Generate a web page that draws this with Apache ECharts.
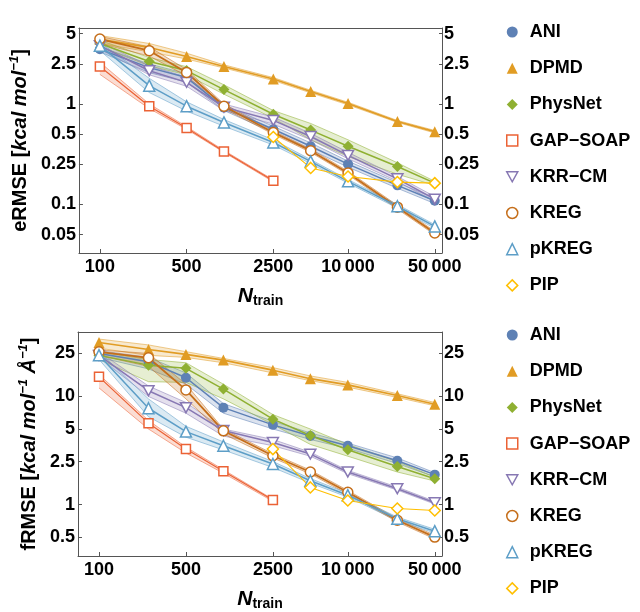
<!DOCTYPE html>
<html><head><meta charset="utf-8">
<script src="https://cdn.jsdelivr.net/npm/echarts@6/dist/echarts.min.js"></script>
<style>html,body{margin:0;padding:0;background:#fff}#c{width:640px;height:612px}</style>
</head><body><div id="c"></div>
<script>
// ---------- data ----------
const nTrain = [100, 250, 500, 1000, 2500, 5000, 10000, 25000, 50000];
const xTicks = [100, 500, 2500, 10000, 50000];
const eTicks = [0.05, 0.1, 0.25, 0.5, 1, 2.5, 5];
const fTicks = [0.5, 1, 2.5, 5, 10, 25];
const methods = ['ANI', 'DPMD', 'PhysNet', 'GAP−SOAP', 'KRR−CM', 'KREG', 'pKREG', 'PIP'];

// eRMSE (kcal/mol): mean, lower, upper
const eANI   = [3.5, 2.3, 1.83, 0.92, 0.56, 0.38, 0.252, 0.155, 0.109];
const eANIlo = [3.3, 2.05, 1.65, 0.86, 0.52, 0.35, 0.235, 0.145, 0.102];
const eANIhi = [3.7, 2.5, 2.0, 0.98, 0.6, 0.41, 0.27, 0.165, 0.116];
const eDPMD   = [4.4, 3.65, 2.97, 2.36, 1.77, 1.33, 1.01, 0.67, 0.53];
const eDPMDlo = [4.0, 3.3, 2.8, 2.28, 1.71, 1.29, 0.98, 0.655, 0.515];
const eDPMDhi = [4.8, 4.0, 3.2, 2.45, 1.83, 1.37, 1.04, 0.685, 0.545];
const ePhys   = [4.0, 2.65, 2.15, 1.39, 0.79, 0.55, 0.38, 0.239, 0.163];
const ePhyslo = [3.7, 2.4, 1.95, 1.25, 0.72, 0.44, 0.3, 0.2, 0.155];
const ePhyshi = [4.3, 2.9, 2.35, 1.55, 0.86, 0.64, 0.44, 0.26, 0.17];
const eGAP   = [2.36, 0.95, 0.577, 0.337, 0.172, null, null, null, null];
const eGAPlo = [1.97, 0.9, 0.56, 0.33, 0.168, null, null, null, null];
const eGAPhi = [2.6, 1.0, 0.595, 0.345, 0.176, null, null, null, null];
const eKRR   = [3.8, 2.14, 1.64, 0.93, 0.686, 0.475, 0.308, 0.18, 0.113];
const eKRRlo = [3.5, 1.95, 1.5, 0.86, 0.63, 0.44, 0.285, 0.17, 0.106];
const eKRRhi = [4.1, 2.4, 1.85, 1.0, 0.74, 0.51, 0.33, 0.19, 0.12];
const eKREG   = [4.43, 3.39, 2.06, 0.95, 0.52, 0.343, 0.206, 0.094, 0.052];
const eKREGlo = [4.0, 3.0, 1.9, 0.9, 0.5, 0.33, 0.198, 0.09, 0.05];
const eKREGhi = [4.7, 3.7, 2.2, 1.0, 0.54, 0.356, 0.214, 0.098, 0.054];
const epK   = [3.8, 1.52, 0.95, 0.655, 0.414, 0.268, 0.17, 0.096, 0.0605];
const epKlo = [3.4, 1.3, 0.85, 0.6, 0.39, 0.255, 0.163, 0.092, 0.058];
const epKhi = [4.1, 1.8, 1.05, 0.7, 0.44, 0.28, 0.177, 0.1, 0.063];
const ePIP  = [null, null, null, null, 0.469, 0.231, 0.19, 0.167, 0.163];

// fRMSE (kcal/mol/Å): mean, lower, upper
const fANI   = [25, 21, 14.9, 7.88, 5.46, 4.3, 3.5, 2.54, 1.89];
const fANIlo = [23, 18, 13, 7.0, 5.0, 4.0, 3.3, 2.4, 1.8];
const fANIhi = [26.5, 23, 16.5, 8.6, 5.9, 4.6, 3.7, 2.7, 1.97];
const fDPMD   = [31.6, 27.2, 24.5, 21.7, 17.5, 14.6, 12.8, 10.2, 8.47];
const fDPMDlo = [28, 24, 23, 20.5, 16.5, 14, 12.2, 9.8, 8.2];
const fDPMDhi = [34, 30, 26, 22.5, 18.5, 15.5, 13.5, 10.6, 8.8];
const fPhys   = [24, 19.5, 18.2, 11.7, 6.17, 4.35, 3.21, 2.25, 1.73];
const fPhyslo = [22, 13.7, 13.5, 9.5, 5.5, 3.6, 2.8, 2.0, 1.65];
const fPhyshi = [26, 22, 20.5, 13, 6.8, 5.0, 3.6, 2.5, 1.8];
const fGAP   = [15.2, 5.66, 3.26, 2.03, 1.10, null, null, null, null];
const fGAPlo = [12, 5.0, 3.0, 1.95, 1.07, null, null, null, null];
const fGAPhi = [16, 6.0, 3.4, 2.1, 1.12, null, null, null, null];
const fKRR   = [24, 11.3, 7.88, 4.84, 3.75, 2.93, 2.0, 1.40, 1.04];
const fKRRlo = [23, 10, 7.0, 4.3, 3.5, 2.8, 1.93, 1.36, 1.01];
const fKRRhi = [26, 12.5, 8.8, 5.0, 4.0, 3.05, 2.07, 1.45, 1.07];
const fKREG   = [25.9, 22.8, 11.5, 4.81, 2.83, 2.0, 1.30, 0.716, 0.5];
const fKREGlo = [24, 19, 9.5, 4.5, 2.7, 1.92, 1.25, 0.69, 0.48];
const fKREGhi = [27, 25, 13, 5.0, 2.95, 2.08, 1.35, 0.74, 0.52];
const fpK   = [24.1, 7.78, 4.73, 3.5, 2.37, 1.66, 1.22, 0.738, 0.567];
const fpKlo = [22, 6.5, 4.2, 3.2, 2.2, 1.58, 1.17, 0.71, 0.545];
const fpKhi = [26, 9.5, 5.3, 3.8, 2.5, 1.74, 1.27, 0.765, 0.59];
const fPIP  = [null, null, null, null, 3.26, 1.44, 1.09, 0.918, 0.88];

// ---------- styles ----------
const FONT = 'Liberation Sans, Arial, sans-serif';
const FRAME = '#555';
const DOWN_TRI = 'path://M0,0L10,0L5,9Z';
const styles = [
  {color: '#5E81B5', symbol: 'circle',   size: 10, open: false, lw: 1.5},
  {color: '#E19C24', symbol: 'triangle', size: 11, open: false, lw: 1.7},
  {color: '#8FB032', symbol: 'diamond',  size: 11, open: false, lw: 1.5},
  {color: '#EB6235', symbol: 'rect',     size: 9,  open: true,  lw: 1.2},
  {color: '#8778B3', symbol: DOWN_TRI,   size: 11, open: true,  lw: 1.5},
  {color: '#C56E1A', symbol: 'circle',   size: 10, open: true,  lw: 1.8},
  {color: '#5D9EC7', symbol: 'triangle', size: 11, open: true,  lw: 1.5},
  {color: '#FFBF00', symbol: 'diamond',  size: 11, open: true,  lw: 1.1}
];

const panels = [
  {mean: [eANI, eDPMD, ePhys, eGAP, eKRR, eKREG, epK, ePIP],
   lo:   [eANIlo, eDPMDlo, ePhyslo, eGAPlo, eKRRlo, eKREGlo, epKlo, null],
   hi:   [eANIhi, eDPMDhi, ePhyshi, eGAPhi, eKRRhi, eKREGhi, epKhi, null],
   ticks: eTicks, ymin: 0.0329, ymax: 5.70},
  {mean: [fANI, fDPMD, fPhys, fGAP, fKRR, fKREG, fpK, fPIP],
   lo:   [fANIlo, fDPMDlo, fPhyslo, fGAPlo, fKRRlo, fKREGlo, fpKlo, null],
   hi:   [fANIhi, fDPMDhi, fPhyshi, fGAPhi, fKRRhi, fKREGhi, fpKhi, null],
   ticks: fTicks, ymin: 0.334, ymax: 39.5}
];

function nearest(list, v) {
  let best = list[0];
  for (const t of list) if (Math.abs(Math.log(t) - Math.log(v)) < Math.abs(Math.log(best) - Math.log(v))) best = t;
  return best;
}
function fmtX(v) {
  const t = nearest(xTicks, v);
  return t >= 10000 ? String(t).replace(/(\d)(?=(\d{3})+$)/g, '$1\u2009') : String(t);
}

const labelStyle = {fontFamily: FONT, fontSize: 18, fontWeight: 'bold', color: '#000'};
const titleRich = {
  b: {fontFamily: FONT, fontSize: 20, fontWeight: 'bold', color: '#000', lineHeight: 24},
  i: {fontFamily: FONT, fontSize: 20, fontWeight: 'bold', fontStyle: 'italic', color: '#000', lineHeight: 24},
  s: {fontFamily: FONT, fontSize: 13, fontWeight: 'bold', fontStyle: 'italic', color: '#000', lineHeight: 13, verticalAlign: 'top'}
};
const xNameRich = {
  n: {fontFamily: FONT, fontSize: 21, fontWeight: 'bold', fontStyle: 'italic', color: '#000', lineHeight: 22, verticalAlign: 'top'},
  s: {fontFamily: FONT, fontSize: 14, fontWeight: 'bold', color: '#000', lineHeight: 14, padding: [10, 0, 0, 0], verticalAlign: 'bottom'}
};

const grids = [
  {left: 78, top: 28, width: 364, height: 225},
  {left: 78, top: 332, width: 364, height: 225}
];
const yNames = [
  '{b|eRMSE [}{i|kcal mol}{s|−1}{b|]}',
  '{b|fRMSE [}{i|kcal mol}{s|−1}{i| Å}{s|−1}{b|]}'
];
const yNameGap = [39, 29];

const xAxis = [], yAxis = [], series = [], legend = [];
panels.forEach((p, g) => {
  xAxis.push({
    type: 'log', gridIndex: g, min: 67.8, max: 57180, position: 'bottom',
    axisLine: {show: true, lineStyle: {color: FRAME, width: 1}},
    axisTick: {show: true, inside: true, length: 4, customValues: xTicks, lineStyle: {color: FRAME}},
    axisLabel: Object.assign({customValues: xTicks, margin: 5, formatter: fmtX}, labelStyle),
    splitLine: {show: false}, minorTick: {show: false},
    name: '{n|N}{s|train}', nameLocation: 'middle', nameGap: 33,
    nameTextStyle: {rich: xNameRich}
  });
  xAxis.push({
    type: 'value', gridIndex: g, min: 0, max: 1, position: 'top',
    axisLine: {show: true, onZero: false, lineStyle: {color: FRAME, width: 1}},
    axisTick: {show: false}, axisLabel: {show: false}, splitLine: {show: false}
  });
  const yfmt = v => String(nearest(p.ticks, v));
  yAxis.push({
    type: 'log', gridIndex: g, min: p.ymin, max: p.ymax, position: 'left',
    axisLine: {show: true, lineStyle: {color: FRAME, width: 1}},
    axisTick: {show: true, inside: true, length: 4, customValues: p.ticks, lineStyle: {color: FRAME}},
    axisLabel: Object.assign({customValues: p.ticks, margin: 3, formatter: yfmt}, labelStyle),
    splitLine: {show: false}, minorTick: {show: false},
    name: yNames[g], nameLocation: 'middle', nameGap: yNameGap[g], nameRotate: 90,
    nameTextStyle: {rich: titleRich}
  });
  yAxis.push({
    type: 'log', gridIndex: g, min: p.ymin, max: p.ymax, position: 'right',
    axisLine: {show: true, lineStyle: {color: FRAME, width: 1}},
    axisTick: {show: true, inside: true, length: 3, customValues: p.ticks, lineStyle: {color: FRAME}},
    axisLabel: Object.assign({customValues: p.ticks, margin: 2, formatter: yfmt}, labelStyle),
    splitLine: {show: false}, minorTick: {show: false}
  });
  const xi = g * 2, yi = g * 2;

  // bands
  methods.forEach((m, k) => {
    if (!p.lo[k]) return;
    const st = styles[k];
    const pts = [];
    nTrain.forEach((x, i) => { if (p.lo[k][i] != null) pts.push([x, p.lo[k][i], p.hi[k][i]]); });
    series.push({
      type: 'custom', name: m + ' band', xAxisIndex: xi, yAxisIndex: yi, z: 1,
      silent: true, animation: false, clip: true,
      data: pts,
      renderItem: function (params, api) {
        if (params.dataIndex !== 0) return {type: 'group', children: []};
        const lower = pts.map(d => api.coord([d[0], d[1]]));
        const upper = pts.map(d => api.coord([d[0], d[2]]));
        const poly = lower.concat(upper.slice().reverse());
        return {
          type: 'group',
          children: [
            {type: 'polygon', shape: {points: poly}, style: {fill: st.color, opacity: 0.22, stroke: null}},
            {type: 'polyline', shape: {points: lower}, style: {stroke: st.color, lineWidth: 0.7, opacity: 0.75, fill: null}},
            {type: 'polyline', shape: {points: upper}, style: {stroke: st.color, lineWidth: 0.7, opacity: 0.75, fill: null}}
          ]
        };
      }
    });
  });

  // mean lines + markers
  methods.forEach((m, k) => {
    const st = styles[k];
    const data = [];
    nTrain.forEach((x, i) => { if (p.mean[k][i] != null) data.push([x, p.mean[k][i]]); });
    series.push({
      type: 'line', name: m, xAxisIndex: xi, yAxisIndex: yi, z: 3,
      data: data, symbol: st.symbol, symbolSize: st.size, symbolKeepAspect: true,
      showAllSymbol: true, animation: false,
      lineStyle: {color: st.color, width: st.lw},
      itemStyle: st.open ? {color: '#fff', borderColor: st.color, borderWidth: 1.5}
                         : {color: st.color, borderWidth: 0},
      emphasis: {disabled: true}
    });
  });

  legend.push({
    orient: 'vertical', left: 506, top: g === 0 ? 22 : 325, padding: 0,
    itemWidth: 11, itemHeight: 11, itemGap: 16.2,
    selectedMode: false,
    textStyle: {fontFamily: FONT, fontSize: 18, fontWeight: 'bold', color: '#000', lineHeight: 20, padding: [0, 0, 0, 7]},
    data: methods.map((m, k) => {
      const st = styles[k];
      return {
        name: m, icon: st.symbol,
        itemStyle: st.open ? {color: '#fff', borderColor: st.color, borderWidth: 1.5}
                           : {color: st.color, borderWidth: 0}
      };
    })
  });
});

const chart = echarts.init(document.getElementById('c'), null, {renderer: 'canvas'});
chart.setOption({
  backgroundColor: '#fff',
  animation: false,
  grid: grids,
  xAxis: xAxis,
  yAxis: yAxis,
  legend: legend,
  series: series
});
</script>
</body></html>
